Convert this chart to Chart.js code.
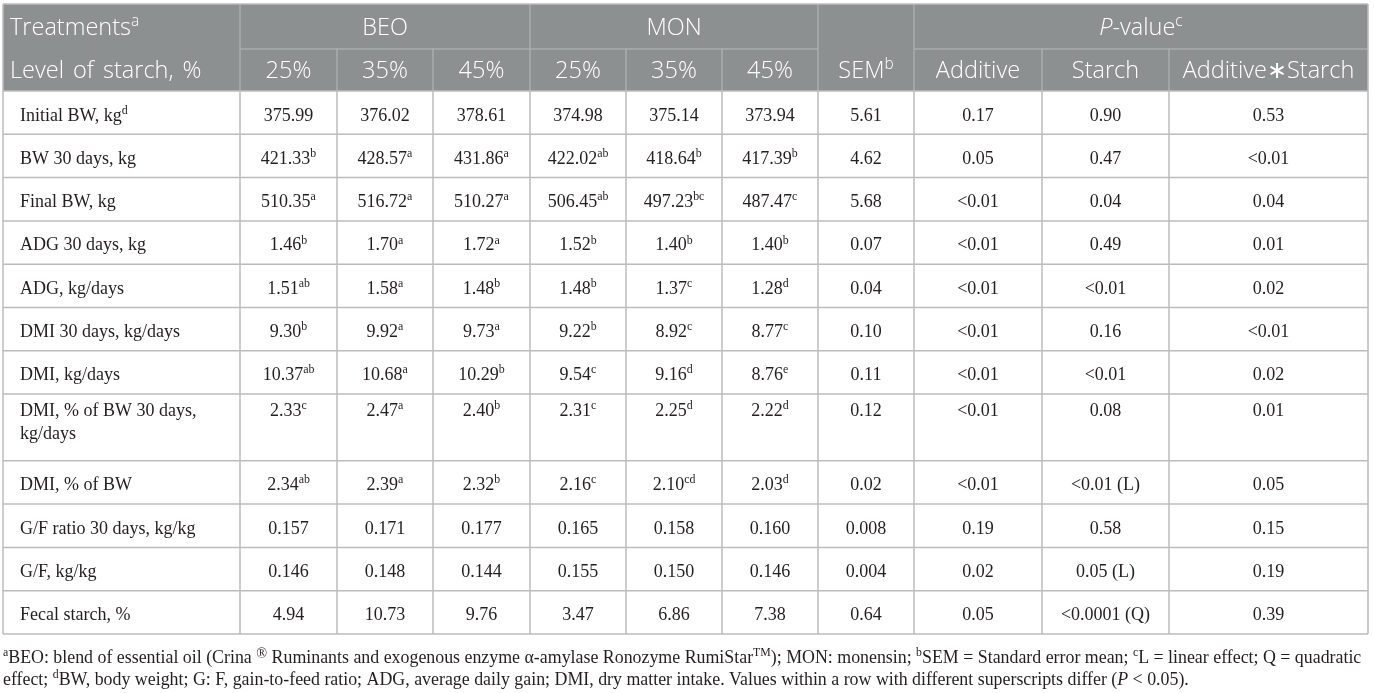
<!DOCTYPE html>
<html>
<head>
<meta charset="utf-8">
<script src="https://cdn.jsdelivr.net/npm/chart.js@4.4.1/dist/chart.umd.min.js"></script>
<style>
html,body{margin:0;padding:0;background:#fff;}
#wrap{position:relative;width:1374px;height:693px;}
</style>
</head>
<body>
<div id="wrap"><canvas id="c"></canvas></div>
<script>
// ---------------- DATA ----------------
const groups = ["BEO", "MON"];
const starchLevels = ["25%", "35%", "45%"];
const pValueColumns = ["Additive", "Starch", "Additive\u2217Starch"];

const rowLabels = [
  "Initial BW, kg^d",
  "BW 30 days, kg",
  "Final BW, kg",
  "ADG 30 days, kg",
  "ADG, kg/days",
  "DMI 30 days, kg/days",
  "DMI, kg/days",
  "DMI, % of BW 30 days,\nkg/days",
  "DMI, % of BW",
  "G/F ratio 30 days, kg/kg",
  "G/F, kg/kg",
  "Fecal starch, %"
];
const beo25 = ["375.99","421.33^b","510.35^a","1.46^b","1.51^ab","9.30^b","10.37^ab","2.33^c","2.34^ab","0.157","0.146","4.94"];
const beo35 = ["376.02","428.57^a","516.72^a","1.70^a","1.58^a","9.92^a","10.68^a","2.47^a","2.39^a","0.171","0.148","10.73"];
const beo45 = ["378.61","431.86^a","510.27^a","1.72^a","1.48^b","9.73^a","10.29^b","2.40^b","2.32^b","0.177","0.144","9.76"];
const mon25 = ["374.98","422.02^ab","506.45^ab","1.52^b","1.48^b","9.22^b","9.54^c","2.31^c","2.16^c","0.165","0.155","3.47"];
const mon35 = ["375.14","418.64^b","497.23^bc","1.40^b","1.37^c","8.92^c","9.16^d","2.25^d","2.10^cd","0.158","0.150","6.86"];
const mon45 = ["373.94","417.39^b","487.47^c","1.40^b","1.28^d","8.77^c","8.76^e","2.22^d","2.03^d","0.160","0.146","7.38"];
const sem = ["5.61","4.62","5.68","0.07","0.04","0.10","0.11","0.12","0.02","0.008","0.004","0.64"];
const pAdditive = ["0.17","0.05","<0.01","<0.01","<0.01","<0.01","<0.01","<0.01","<0.01","0.19","0.02","0.05"];
const pStarch = ["0.90","0.47","0.04","0.49","<0.01","0.16","<0.01","0.08","<0.01 (L)","0.58","0.05 (L)","<0.0001 (Q)"];
const pInteraction = ["0.53","<0.01","0.04","0.01","0.02","<0.01","0.02","0.01","0.05","0.15","0.19","0.39"];

const footnoteLine1 = [
  {t:"a", sup:true}, {t:"BEO: blend of essential oil (Crina "}, {t:"\u00AE", sym:true},
  {t:" Ruminants and exogenous enzyme \u03B1-amylase Ronozyme RumiStar"}, {t:"TM", sup:true},
  {t:"); MON: monensin; "}, {t:"b", sup:true}, {t:"SEM = Standard error mean; "},
  {t:"c", sup:true}, {t:"L = linear effect; Q = quadratic"}
];
const footnoteLine2 = [
  {t:"effect; "}, {t:"d", sup:true},
  {t:"BW, body weight; G: F, gain-to-feed ratio; ADG, average daily gain; DMI, dry matter intake. Values within a row with different superscripts differ ("},
  {t:"P", it:true}, {t:" < 0.05)."}
];

// ---------------- LAYOUT (positions/styles) ----------------
const W = 1374, H = 693;
const colEdges = [3, 240, 337, 433, 530, 626, 722, 818, 914, 1042, 1169, 1368];
const headerTop = 4, headerMid = 49, headerBottom = 91;
const rowUnits = [1,1,1,1,1,1,1,1.54,1,1,1,1];
const rowH = 43.3;
const headerFill = "#8c9091";
const headerLine = "#aaadae";
const gridLine = "#bcbcbc";
const bodyColor = "#231f20";
const sansFam = "'Open Sans', 'Noto Sans', sans-serif";
const serifFam = "'Liberation Serif', 'DejaVu Serif', serif";
const headerWeight = "300";

const valueColumns = [beo25, beo35, beo45, mon25, mon35, mon45, sem, pAdditive, pStarch, pInteraction];

function parseSup(s) {
  const i = s.indexOf("^");
  if (i < 0) return [{t:s}];
  return [{t:s.slice(0,i)}, {t:s.slice(i+1), sup:true}];
}

function segFont(seg, size, family, weight) {
  let sz = size;
  if (seg.sup) sz = size * 0.66;
  if (seg.sym) sz = size * 0.8;
  return (seg.it ? "italic " : "") + (weight || "normal") + " " + sz.toFixed(2) + "px " + family;
}

function richWidth(ctx, segs, size, family, weight) {
  let w = 0;
  for (const s of segs) { ctx.font = segFont(s, size, family, weight); w += ctx.measureText(s.t).width; }
  return w;
}

function drawRich(ctx, segs, x, y, align, size, family, color, weight) {
  const total = richWidth(ctx, segs, size, family, weight);
  let cx = align === "center" ? x - total / 2 : (align === "right" ? x - total : x);
  ctx.fillStyle = color;
  ctx.textBaseline = "alphabetic";
  ctx.textAlign = "left";
  for (const s of segs) {
    ctx.font = segFont(s, size, family, weight);
    let dy = 0;
    if (s.sup) dy = -size * 0.38;
    if (s.sym) dy = -size * 0.3;
    ctx.fillText(s.t, cx, y + dy);
    cx += ctx.measureText(s.t).width;
  }
}

const tablePlugin = {
  id: "tablePlugin",
  afterDraw(chart) {
    const ctx = chart.ctx;
    const xs = chart.scales.x, ys = chart.scales.y;
    const X = v => xs.getPixelForValue(v);
    const Y = v => ys.getPixelForValue(v);
    ctx.save();

    const rowEdges = [headerBottom];
    rowUnits.forEach(u => rowEdges.push(rowEdges[rowEdges.length - 1] + u * rowH));
    const tableBottom = rowEdges[rowEdges.length - 1];

    // header background
    ctx.fillStyle = headerFill;
    ctx.fillRect(X(colEdges[0]), Y(headerTop), X(colEdges[colEdges.length-1]) - X(colEdges[0]), Y(headerBottom) - Y(headerTop));

    // header lines
    ctx.strokeStyle = headerLine;
    ctx.lineWidth = 1.5;
    const line = (x1, y1, x2, y2) => { ctx.beginPath(); ctx.moveTo(X(x1), Y(y1)); ctx.lineTo(X(x2), Y(y2)); ctx.stroke(); };
    line(colEdges[1], headerMid, colEdges[7], headerMid);
    line(colEdges[8], headerMid, colEdges[11], headerMid);
    [1, 4, 7, 8].forEach(i => line(colEdges[i], headerTop, colEdges[i], headerBottom));
    [2, 3, 5, 6, 9, 10].forEach(i => line(colEdges[i], headerMid, colEdges[i], headerBottom));

    // body grid
    ctx.strokeStyle = gridLine;
    ctx.lineWidth = 1.5;
    rowEdges.forEach(e => line(colEdges[0], e, colEdges[11], e));
    colEdges.forEach(c => line(c, headerBottom, c, tableBottom));
    line(colEdges[0], headerTop, colEdges[11], headerTop);
    line(colEdges[0], headerTop, colEdges[0], headerBottom);
    line(colEdges[11], headerTop, colEdges[11], headerBottom);

    // header text
    const hs = 23.5;
    const mid = i => (X(colEdges[i]) + X(colEdges[i+1])) / 2;
    drawRich(ctx, [{t:"Treatments"}, {t:"a", sup:true}], X(colEdges[0]) + 7, Y(35), "left", hs, sansFam, "#fff", headerWeight);
    try { ctx.wordSpacing = "3px"; } catch (e) {}
    drawRich(ctx, [{t:"Level of starch, %"}], X(colEdges[0]) + 7, Y(78), "left", hs, sansFam, "#fff", headerWeight);
    try { ctx.wordSpacing = "0px"; } catch (e) {}
    groups.forEach((g, gi) => {
      const cx = (X(colEdges[1 + gi*3]) + X(colEdges[4 + gi*3])) / 2;
      drawRich(ctx, [{t:g}], cx, Y(35), "center", hs, sansFam, "#fff", headerWeight);
      starchLevels.forEach((lv, li) => drawRich(ctx, [{t:lv}], mid(1 + gi*3 + li), Y(78), "center", hs, sansFam, "#fff", headerWeight));
    });
    drawRich(ctx, [{t:"SEM"}, {t:"b", sup:true}], mid(7), Y(78), "center", hs, sansFam, "#fff", headerWeight);
    drawRich(ctx, [{t:"P", it:true}, {t:"-value"}, {t:"c", sup:true}], (X(colEdges[8]) + X(colEdges[11])) / 2, Y(35), "center", hs, sansFam, "#fff", headerWeight);
    pValueColumns.forEach((p, pi) => drawRich(ctx, [{t:p}], mid(8 + pi), Y(78), "center", hs, sansFam, "#fff", headerWeight));

    // body text
    const bs = 18;
    rowLabels.forEach((lab, r) => {
      const top = rowEdges[r];
      const multi = lab.indexOf("\n") >= 0;
      const base = multi ? top + 22 : top + 29.5;
      lab.split("\n").forEach((ln, k) => {
        drawRich(ctx, parseSup(ln), X(colEdges[0]) + 17, Y(base + k * 23), "left", bs, serifFam, bodyColor);
      });
      valueColumns.forEach((col, ci) => {
        drawRich(ctx, parseSup(col[r]), mid(1 + ci), Y(base), "center", bs, serifFam, bodyColor);
      });
    });

    // footnotes: fit first line to table width
    let fs = 16;
    const w1 = richWidth(ctx, footnoteLine1, fs, serifFam);
    fs = fs * (X(1362) - X(3)) / w1;
    drawRich(ctx, footnoteLine1, X(3), Y(663), "left", fs, serifFam, bodyColor);
    drawRich(ctx, footnoteLine2, X(3), Y(684.5), "left", fs, serifFam, bodyColor);

    ctx.restore();
  }
};

new Chart(document.getElementById("c"), {
  type: "scatter",
  data: { datasets: [] },
  options: {
    responsive: true,
    maintainAspectRatio: false,
    animation: false,
    events: [],
    layout: { padding: 0 },
    scales: {
      x: { type: "linear", min: 0, max: W, display: false },
      y: { type: "linear", min: 0, max: H, reverse: true, display: false }
    },
    plugins: { legend: { display: false }, tooltip: { enabled: false } }
  },
  plugins: [tablePlugin]
});
</script>
</body>
</html>
